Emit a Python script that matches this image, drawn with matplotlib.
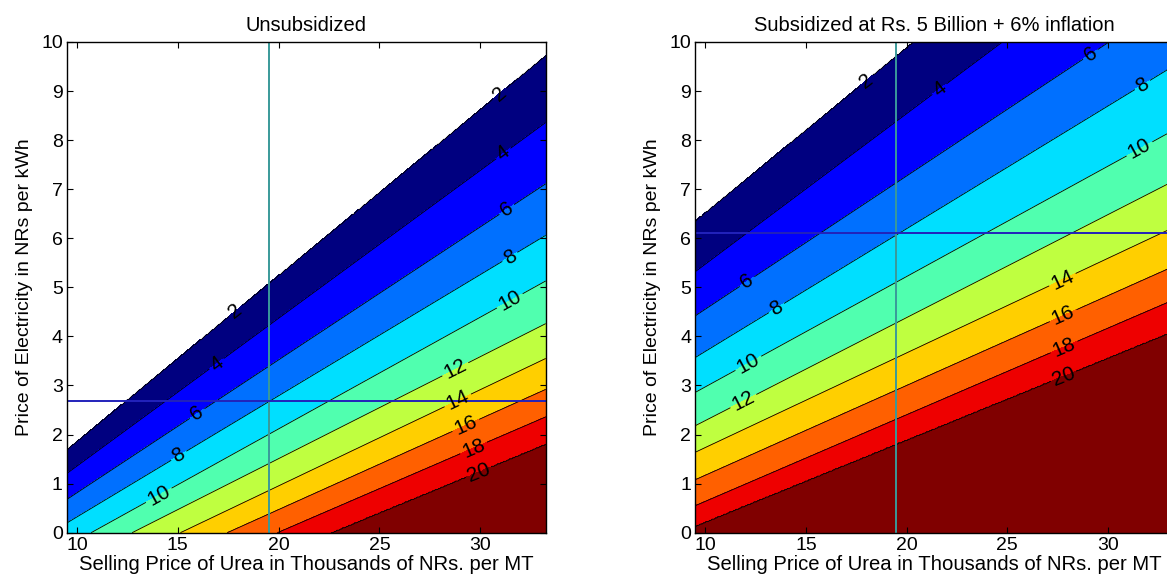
import matplotlib
matplotlib.use('Agg')
import matplotlib.pyplot as plt
import numpy as np

plt.rcParams['font.family'] = ['Liberation Sans', 'DejaVu Sans']

# contour levels (cost in NRs, per band)
levels = np.arange(2, 21, 2)

# where each level line meets the frame: (x0, y0) -> (x1, y1)
left_x0 = np.array([9.5, 9.5, 9.5, 9.5, 10.70, 12.73, 15.13, 17.45, 19.94, 22.58])
left_y0 = np.array([1.68, 1.21, 0.68, 0.20, 0.0, 0.0, 0.0, 0.0, 0.0, 0.0])
left_x1 = np.array([33.25] * 10)
left_y1 = np.array([9.71, 8.36, 7.11, 6.06, 5.13, 4.26, 3.55, 2.92, 2.36, 1.81])

right_x0 = np.array([9.5] * 10)
right_y0 = np.array([6.34, 5.32, 4.42, 3.57, 2.86, 2.18, 1.64, 1.08, 0.55, 0.14])
right_x1 = np.array([20.37, 24.76, 30.06, 32.9, 32.9, 32.9, 32.9, 32.9, 32.9, 32.9])
right_y1 = np.array([10.0, 10.0, 10.0, 9.42, 8.12, 7.09, 6.15, 5.36, 4.68, 4.05])

# reference price lines
left_urea, left_elec = 19.5, 2.69
right_urea, right_elec = 19.45, 6.10

band_colors = ['#000080', '#0000FF', '#0070FF', '#00DFFF', '#50FFAF',
               '#BFFF40', '#FFCF00', '#FF6000', '#EE0000', '#800000']

# label spots along the lines
left_label_pos = [(17.9, 4.5), (31.0, 8.9), (17.0, 3.4), (31.2, 7.7), (16.0, 2.4),
                  (31.3, 6.6), (15.0, 1.6), (31.5, 5.6), (14.0, 0.8), (31.5, 4.7),
                  (28.8, 3.3), (29.0, 2.6), (29.5, 2.0), (29.8, 1.6), (30.0, 1.2)]
right_label_pos = [(18.0, 9.2), (21.7, 9.0), (29.2, 9.7), (12.1, 5.1), (31.9, 9.0),
                   (13.5, 4.6), (31.6, 7.8), (12.2, 3.4), (12.0, 2.6), (27.8, 5.1),
                   (27.8, 4.4), (27.8, 3.8), (27.8, 3.2)]


def build_field(x0, y0, x1, y1):
    xs = np.linspace(9.5, 33.25, 400)
    ys = np.linspace(0, 10, 400)
    slope = (y1 - y0) / (x1 - x0)
    heights = y0[:, None] + slope[:, None] * (xs[None, :] - x0[:, None])
    Z = np.empty((len(ys), len(xs)))
    for j in range(len(xs)):
        h = heights[:, j]
        hh = np.concatenate(([h[-1] - 50], h[::-1], [h[0] + 50]))
        zz = np.concatenate(([levels[-1] + 2], levels[::-1], [levels[0] - 2]))
        Z[:, j] = np.interp(ys, hh, zz)
    return xs, ys, Z


def draw_panel(ax, data, title, urea, elec, label_pos):
    xs, ys, Z = build_field(*data)
    ax.contourf(xs, ys, Z, levels=list(levels) + [22], colors=band_colors)
    cs = ax.contour(xs, ys, Z, levels=levels, colors='k', linewidths=0.6)
    ax.set_xlim(9.5, 33.25)
    ax.set_ylim(0, 10)
    ax.clabel(cs, manual=label_pos, fmt='%d', fontsize=15, inline=True, inline_spacing=3)
    ax.axvline(urea, color='#3A9A9A', lw=1.4)
    ax.axhline(elec, color='#2222BB', lw=1.4)
    ax.set_xticks([10, 15, 20, 25, 30])
    ax.set_yticks(range(0, 11))
    ax.tick_params(direction='in', top=True, right=True, length=4, labelsize=14, pad=3)
    for s in ax.spines.values():
        s.set_linewidth(1.0)
    ax.set_xlabel('Selling Price of Urea in Thousands of NRs. per MT', fontsize=14.6, labelpad=1)
    ax.set_ylabel('Price of Electricity in NRs per kWh', fontsize=14, labelpad=6)
    ax.set_title(title, fontsize=14.5, pad=8)


fig = plt.figure(figsize=(11.67, 5.79), dpi=100)
ax1 = fig.add_axes([67 / 1167, 46.3 / 579, 478.7 / 1167, 490.7 / 579])
ax2 = fig.add_axes([695.3 / 1167, 46.3 / 579, 478.0 / 1167, 490.7 / 579])

draw_panel(ax1, (left_x0, left_y0, left_x1, left_y1), 'Unsubsidized',
           left_urea, left_elec, left_label_pos)
draw_panel(ax2, (right_x0, right_y0, right_x1, right_y1),
           'Subsidized at Rs. 5 Billion + 6% inflation',
           right_urea, right_elec, right_label_pos)

fig.savefig('out.png', dpi=100)
